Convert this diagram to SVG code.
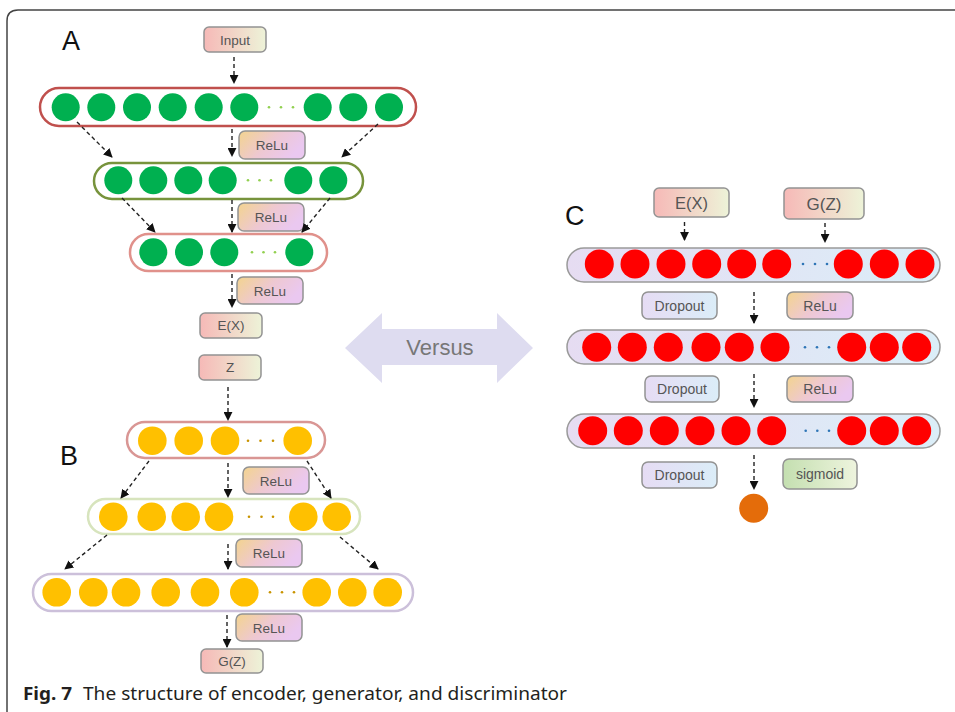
<svg xmlns="http://www.w3.org/2000/svg" width="955" height="712" viewBox="0 0 955 712">
<style>
.lbl{font-family:"Liberation Sans",Arial,sans-serif;fill:#555;text-anchor:middle}
.big{font-family:"Liberation Sans",Arial,sans-serif;fill:#111;font-size:27px}
.box{stroke:#939393;stroke-width:1.5}
.g{fill:#00b050}.y{fill:#ffc000}.r{fill:#ff0000}
.conn line{stroke:#222;stroke-width:1.4;stroke-dasharray:4 3;marker-end:url(#ah)}
.cap{font-family:"Noto Sans","Open Sans",sans-serif;fill:#231f20;font-size:18px}
</style>
<defs>
<marker id="ah" viewBox="0 0 10 10" refX="9" refY="5" markerWidth="9" markerHeight="9" markerUnits="userSpaceOnUse" orient="auto"><path d="M0,0 L10,5 L0,10 z" fill="#111"/></marker>
<linearGradient id="relu" x1="0" y1="0" x2="1" y2="0.4"><stop offset="0" stop-color="#f3d48e"/><stop offset="0.55" stop-color="#eec8d2"/><stop offset="1" stop-color="#eac8f0"/></linearGradient>
<linearGradient id="io" x1="0" y1="0" x2="1" y2="0"><stop offset="0" stop-color="#f6b9b7"/><stop offset="1" stop-color="#edf3d8"/></linearGradient>
<linearGradient id="drop" x1="0" y1="0" x2="1" y2="0"><stop offset="0" stop-color="#e6dcf4"/><stop offset="1" stop-color="#dbedf8"/></linearGradient>
<linearGradient id="sig" x1="0" y1="0" x2="1" y2="0"><stop offset="0" stop-color="#c4dfb0"/><stop offset="1" stop-color="#eef4de"/></linearGradient>
<linearGradient id="clay" x1="0" y1="0" x2="1" y2="0"><stop offset="0" stop-color="#e6dcf2"/><stop offset="1" stop-color="#dbeef8"/></linearGradient>
</defs>

<path d="M7,712 V21 Q7,10 18,10 H955" fill="none" stroke="#444" stroke-width="1.5"/>

<text class="big" x="62" y="50">A</text>
<text class="big" x="60" y="465">B</text>
<text class="big" x="565" y="225">C</text>

<!-- Versus arrow -->
<g id="versus">
<path d="M345,348 L382,313 L382,329 L497,329 L497,313 L533,348 L497,383 L497,365 L382,365 L382,383 Z" fill="#dedcf0"/>
<text x="440" y="355" font-family="Liberation Sans,Arial,sans-serif" font-size="22" fill="#777" text-anchor="middle">Versus</text>
</g>

<!-- Section A -->
<g id="input"><rect class="box" x="204" y="27" width="62" height="25" rx="5" fill="url(#io)"/><text class="lbl" x="235" y="44.5" font-size="13.5">Input</text></g>
<g id="A1">
<rect x="40" y="88" width="376" height="38" rx="19" fill="#fff" stroke="#c0504d" stroke-width="2.5"/>
<circle class="g" cx="65.7" cy="107.3" r="14"/><circle class="g" cx="101.3" cy="107.3" r="14"/><circle class="g" cx="137" cy="107.3" r="14"/><circle class="g" cx="172.7" cy="107.3" r="14"/><circle class="g" cx="208.7" cy="107.3" r="14"/><circle class="g" cx="244.3" cy="107.3" r="14"/>
<circle class="g" cx="317.7" cy="107.3" r="14"/><circle class="g" cx="353.3" cy="107.3" r="14"/><circle class="g" cx="389" cy="107.3" r="14"/>
<g fill="#92d050"><circle cx="269" cy="107.3" r="1.3"/><circle cx="281" cy="107.3" r="1.3"/><circle cx="293" cy="107.3" r="1.3"/></g>
</g>
<g id="reluA1"><rect class="box" x="239" y="131" width="66" height="28" rx="6" fill="url(#relu)"/><text class="lbl" x="272" y="150" font-size="13.5">ReLu</text></g>
<g id="A2">
<rect x="94" y="163" width="269" height="36" rx="18" fill="#fff" stroke="#77933c" stroke-width="2.5"/>
<circle class="g" cx="118.3" cy="180.3" r="14"/><circle class="g" cx="153.3" cy="180.3" r="14"/><circle class="g" cx="188.3" cy="180.3" r="14"/><circle class="g" cx="222.7" cy="180.3" r="14"/>
<circle class="g" cx="298.3" cy="180.3" r="14"/><circle class="g" cx="333.3" cy="180.3" r="14"/>
<g fill="#92d050"><circle cx="248" cy="180.3" r="1.3"/><circle cx="259.5" cy="180.3" r="1.3"/><circle cx="271" cy="180.3" r="1.3"/></g>
</g>
<g id="reluA2"><rect class="box" x="238" y="203" width="66" height="28" rx="6" fill="url(#relu)"/><text class="lbl" x="271" y="222" font-size="13.5">ReLu</text></g>
<g id="A3">
<rect x="130" y="234" width="197" height="37" rx="18.5" fill="#fff" stroke="#e0918b" stroke-width="2.5"/>
<circle class="g" cx="153.3" cy="252.3" r="14"/><circle class="g" cx="189" cy="252.3" r="14"/><circle class="g" cx="224.3" cy="252.3" r="14"/><circle class="g" cx="299.3" cy="252.3" r="14"/>
<g fill="#92d050"><circle cx="252" cy="252.3" r="1.3"/><circle cx="263.5" cy="252.3" r="1.3"/><circle cx="275" cy="252.3" r="1.3"/></g>
</g>
<g id="reluA3"><rect class="box" x="237" y="277" width="66" height="27" rx="6" fill="url(#relu)"/><text class="lbl" x="270" y="295.5" font-size="13.5">ReLu</text></g>
<g id="ex"><rect class="box" x="200" y="313" width="62" height="25" rx="5" fill="url(#io)"/><text class="lbl" x="231" y="330" font-size="13.5">E(X)</text></g>

<!-- Section B -->
<g id="z"><rect class="box" x="199" y="355" width="62" height="25" rx="5" fill="url(#io)"/><text class="lbl" x="230" y="372" font-size="13.5">Z</text></g>
<g id="B1">
<rect x="127" y="422" width="198" height="36" rx="18" fill="#fff" stroke="#d99694" stroke-width="2.5"/>
<circle class="y" cx="152.3" cy="440.7" r="14.3"/><circle class="y" cx="188.7" cy="440.7" r="14.3"/><circle class="y" cx="225" cy="440.7" r="14.3"/><circle class="y" cx="297.7" cy="440.7" r="14.3"/>
<g fill="#c99400"><circle cx="248" cy="440.7" r="1.3"/><circle cx="260.5" cy="440.7" r="1.3"/><circle cx="273" cy="440.7" r="1.3"/></g>
</g>
<g id="reluB1"><rect class="box" x="243" y="467" width="66" height="27" rx="6" fill="url(#relu)"/><text class="lbl" x="276" y="485.5" font-size="13.5">ReLu</text></g>
<g id="B2">
<rect x="88" y="499" width="272" height="35" rx="17.5" fill="#fff" stroke="#d7e4bd" stroke-width="2.5"/>
<circle class="y" cx="113.3" cy="516.7" r="14.3"/><circle class="y" cx="151.7" cy="516.7" r="14.3"/><circle class="y" cx="185.7" cy="516.7" r="14.3"/><circle class="y" cx="219" cy="516.7" r="14.3"/>
<circle class="y" cx="303.3" cy="516.7" r="14.3"/><circle class="y" cx="336.7" cy="516.7" r="14.3"/>
<g fill="#c99400"><circle cx="249" cy="516.7" r="1.3"/><circle cx="261.5" cy="516.7" r="1.3"/><circle cx="273" cy="516.7" r="1.3"/></g>
</g>
<g id="reluB2"><rect class="box" x="236" y="539" width="66" height="28" rx="6" fill="url(#relu)"/><text class="lbl" x="269" y="558" font-size="13.5">ReLu</text></g>
<g id="B3">
<rect x="33" y="574" width="380" height="37" rx="18.5" fill="#fff" stroke="#ccc0da" stroke-width="2.5"/>
<circle class="y" cx="56.7" cy="592.3" r="14.3"/><circle class="y" cx="93.3" cy="592.3" r="14.3"/><circle class="y" cx="126" cy="592.3" r="14.3"/><circle class="y" cx="165.7" cy="592.3" r="14.3"/><circle class="y" cx="205" cy="592.3" r="14.3"/><circle class="y" cx="244.3" cy="592.3" r="14.3"/>
<circle class="y" cx="316.7" cy="592.3" r="14.3"/><circle class="y" cx="352.3" cy="592.3" r="14.3"/><circle class="y" cx="387.7" cy="592.3" r="14.3"/>
<g fill="#c99400"><circle cx="270" cy="592.3" r="1.3"/><circle cx="282" cy="592.3" r="1.3"/><circle cx="294" cy="592.3" r="1.3"/></g>
</g>
<g id="reluB3"><rect class="box" x="236" y="614" width="66" height="27" rx="6" fill="url(#relu)"/><text class="lbl" x="269" y="632.5" font-size="13.5">ReLu</text></g>
<g id="gz"><rect class="box" x="201" y="649" width="62" height="24" rx="5" fill="url(#io)"/><text class="lbl" x="232" y="666" font-size="13.5">G(Z)</text></g>

<!-- Section C -->
<g id="cex"><rect class="box" x="654" y="188" width="75" height="29" rx="5" fill="url(#io)"/><text class="lbl" x="691.5" y="208.5" font-size="16.5">E(X)</text></g>
<g id="cgz"><rect class="box" x="784" y="188" width="80" height="31" rx="5" fill="url(#io)"/><text class="lbl" x="824" y="209.5" font-size="17">G(Z)</text></g>
<g id="C1">
<rect x="567" y="248" width="373" height="34" rx="17" fill="url(#clay)" stroke="#9a9a9a" stroke-width="1.5"/>
<circle class="r" cx="599.3" cy="264" r="14.5"/><circle class="r" cx="635" cy="264" r="14.5"/><circle class="r" cx="671" cy="264" r="14.5"/><circle class="r" cx="706.7" cy="264" r="14.5"/><circle class="r" cx="741.7" cy="264" r="14.5"/><circle class="r" cx="776.7" cy="264" r="14.5"/>
<circle class="r" cx="848.3" cy="264" r="14.5"/><circle class="r" cx="884.3" cy="264" r="14.5"/><circle class="r" cx="920" cy="264" r="14.5"/>
<g fill="#2e75b6"><circle cx="803" cy="264" r="1.3"/><circle cx="815" cy="264" r="1.3"/><circle cx="827" cy="264" r="1.3"/></g>
</g>
<g id="drop1"><rect class="box" x="642" y="292" width="75" height="27" rx="6" fill="url(#drop)"/><text class="lbl" x="679.5" y="310.5" font-size="14">Dropout</text></g>
<g id="reluC1"><rect class="box" x="787" y="292" width="66" height="27" rx="6" fill="url(#relu)"/><text class="lbl" x="820" y="310.5" font-size="14">ReLu</text></g>
<g id="C2">
<rect x="567" y="330" width="373" height="34" rx="17" fill="url(#clay)" stroke="#9a9a9a" stroke-width="1.5"/>
<circle class="r" cx="596.7" cy="347.3" r="14.5"/><circle class="r" cx="632.3" cy="347.3" r="14.5"/><circle class="r" cx="668.3" cy="347.3" r="14.5"/><circle class="r" cx="706" cy="347.3" r="14.5"/><circle class="r" cx="739.3" cy="347.3" r="14.5"/><circle class="r" cx="775" cy="347.3" r="14.5"/>
<circle class="r" cx="851.7" cy="347.3" r="14.5"/><circle class="r" cx="884.3" cy="347.3" r="14.5"/><circle class="r" cx="916.7" cy="347.3" r="14.5"/>
<g fill="#2e75b6"><circle cx="805" cy="347.3" r="1.3"/><circle cx="817" cy="347.3" r="1.3"/><circle cx="829" cy="347.3" r="1.3"/></g>
</g>
<g id="drop2"><rect class="box" x="645" y="376" width="74" height="26" rx="6" fill="url(#drop)"/><text class="lbl" x="682" y="394" font-size="14">Dropout</text></g>
<g id="reluC2"><rect class="box" x="787" y="376" width="66" height="26" rx="6" fill="url(#relu)"/><text class="lbl" x="820" y="394" font-size="14">ReLu</text></g>
<g id="C3">
<rect x="567" y="414" width="373" height="34" rx="17" fill="url(#clay)" stroke="#9a9a9a" stroke-width="1.5"/>
<circle class="r" cx="592.7" cy="430.7" r="14.5"/><circle class="r" cx="628.3" cy="430.7" r="14.5"/><circle class="r" cx="664.3" cy="430.7" r="14.5"/><circle class="r" cx="700" cy="430.7" r="14.5"/><circle class="r" cx="736" cy="430.7" r="14.5"/><circle class="r" cx="771.7" cy="430.7" r="14.5"/>
<circle class="r" cx="851.7" cy="430.7" r="14.5"/><circle class="r" cx="884.3" cy="430.7" r="14.5"/><circle class="r" cx="916.7" cy="430.7" r="14.5"/>
<g fill="#2e75b6"><circle cx="805.7" cy="430.7" r="1.3"/><circle cx="817.3" cy="430.7" r="1.3"/><circle cx="829" cy="430.7" r="1.3"/></g>
</g>
<g id="drop3"><rect class="box" x="642" y="462" width="75" height="26" rx="6" fill="url(#drop)"/><text class="lbl" x="679.5" y="480" font-size="14">Dropout</text></g>
<g id="sigmoid"><rect class="box" x="783" y="459" width="74" height="30" rx="6" fill="url(#sig)"/><text class="lbl" x="820" y="479" font-size="14">sigmoid</text></g>
<g id="out"><circle cx="753.7" cy="508.3" r="14.5" fill="#e46c0a"/></g>

<!-- connectors -->
<g id="connectors" class="conn">
<line x1="234" y1="57" x2="234" y2="83"/>
<line x1="77" y1="122" x2="112" y2="157"/>
<line x1="232" y1="129" x2="232" y2="156"/>
<line x1="378" y1="124" x2="342" y2="157"/>
<line x1="122" y1="198" x2="155" y2="232"/>
<line x1="232" y1="200" x2="232" y2="232"/>
<line x1="330" y1="198" x2="302" y2="232"/>
<line x1="232" y1="274" x2="232" y2="307"/>
<line x1="228" y1="387" x2="228" y2="420"/>
<line x1="149" y1="461" x2="121" y2="498"/>
<line x1="228" y1="463" x2="228" y2="497"/>
<line x1="307" y1="461" x2="331" y2="498"/>
<line x1="107" y1="535" x2="65" y2="569"/>
<line x1="228" y1="544" x2="228" y2="569"/>
<line x1="340" y1="537" x2="378" y2="569"/>
<line x1="227" y1="615" x2="227" y2="647"/>
<line x1="684.5" y1="222" x2="684.5" y2="240"/>
<line x1="825" y1="223" x2="825" y2="242"/>
<line x1="754" y1="292" x2="754" y2="323"/>
<line x1="754" y1="374" x2="754" y2="407"/>
<line x1="754" y1="455" x2="754" y2="489"/>
</g>

<text class="cap" x="23" y="700" font-weight="bold" textLength="49" lengthAdjust="spacingAndGlyphs">Fig. 7</text>
<text class="cap" x="83" y="700" textLength="484" lengthAdjust="spacingAndGlyphs">The structure of encoder, generator, and discriminator</text>
</svg>
